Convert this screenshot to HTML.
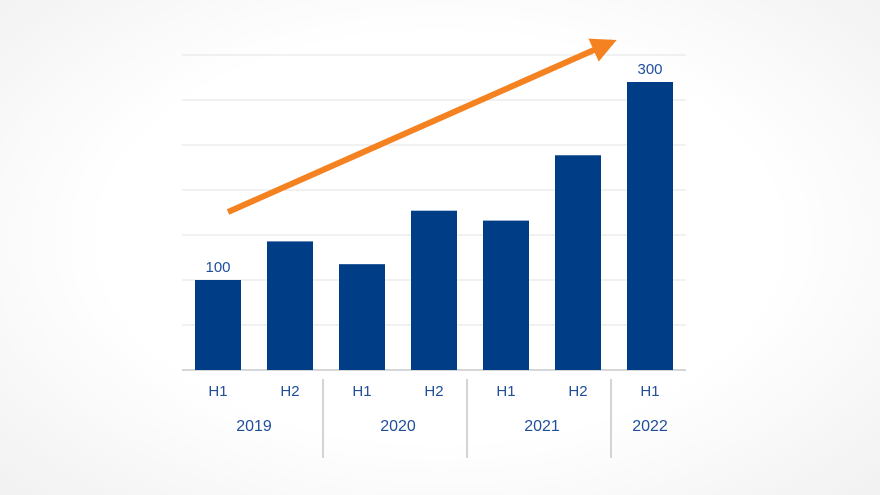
<!DOCTYPE html>
<html><head><meta charset="utf-8">
<style>
html,body{margin:0;padding:0;}
body{width:880px;height:495px;overflow:hidden;background:radial-gradient(ellipse 70% 75% at 50% 48%,#ffffff 55%,#f1f1f1 100%);font-family:"Liberation Sans",sans-serif;}
svg{display:block;}
</style></head>
<body>
<svg id="chart" width="880" height="495" xmlns="http://www.w3.org/2000/svg">
<defs>
<marker id="ah" viewBox="0 0 10 10" refX="8" refY="5" markerWidth="4.2" markerHeight="4.2" orient="auto" markerUnits="strokeWidth">
<path d="M0,0 L10,5 L0,10 Z" fill="#f58220"/>
</marker>
</defs>
<g id="grid"></g>
<g id="bars"></g>
<g id="labels"></g>
<line x1="228" y1="212" x2="612" y2="42" stroke="#f58220" stroke-width="6" marker-end="url(#ah)"/>
</svg>
<script>
const halves = ["H1","H2","H1","H2","H1","H2","H1"];
const years = ["2019","2020","2021","2022"];
const yearSpans = [2,2,2,1];
const values = [100,139,116,170,160,226,300];
const valueLabels = ["100","","","","","","300"];
const gridTicks = [0,1,2,3,4,5,6,7];

const NS="http://www.w3.org/2000/svg";
const x0=182, pitch=72, barW=46, base=370;
const vMin=9.1, k=0.99;
const y = v => base - (v - vMin)*k;
const xc = i => x0 + 36 + i*pitch;
function mk(tag,attrs,parent){const e=document.createElementNS(NS,tag);for(const a in attrs)e.setAttribute(a,attrs[a]);parent.appendChild(e);return e;}
const grid=document.getElementById('grid'), bars=document.getElementById('bars'), labels=document.getElementById('labels');
gridTicks.forEach(t=>{
  const gy = base - t*45;
  const l=mk('line',{x1:x0,x2:686,y1:gy,y2:gy,stroke:t===0?'#c8c8c8':'#e3e3e3','stroke-width':t===0?1.5:1},grid);
  
  
});
values.forEach((v,i)=>{
  const r=mk('rect',{x:xc(i)-barW/2,y:y(v),width:barW,height:base-y(v),fill:'#003d87'},bars);
  
  
  if(valueLabels[i]){
    const t=mk('text',{x:xc(i),y:y(v)-8,'text-anchor':'middle','font-size':15,fill:'#1f4e9a'},labels);
    t.textContent=valueLabels[i];
    
    
  }
  const h=mk('text',{x:xc(i),y:396,'text-anchor':'middle','font-size':15,fill:'#1f4e9a'},labels);
  h.textContent=halves[i];
  
  
});
let idx=0;
years.forEach((yr,j)=>{
  const span=yearSpans[j];
  const cx=(xc(idx)+xc(idx+span-1))/2;
  const t=mk('text',{x:cx,y:431,'text-anchor':'middle','font-size':16,fill:'#1f4e9a'},labels);
  t.textContent=yr;
  
  
  idx+=span;
  if(j<years.length-1){
    const sx=x0+idx*pitch-3;
    const s=mk('line',{x1:sx,x2:sx,y1:379,y2:458,stroke:'#aaaaaa','stroke-width':1},labels);
    
    
  }
});
</script>
</body></html>
